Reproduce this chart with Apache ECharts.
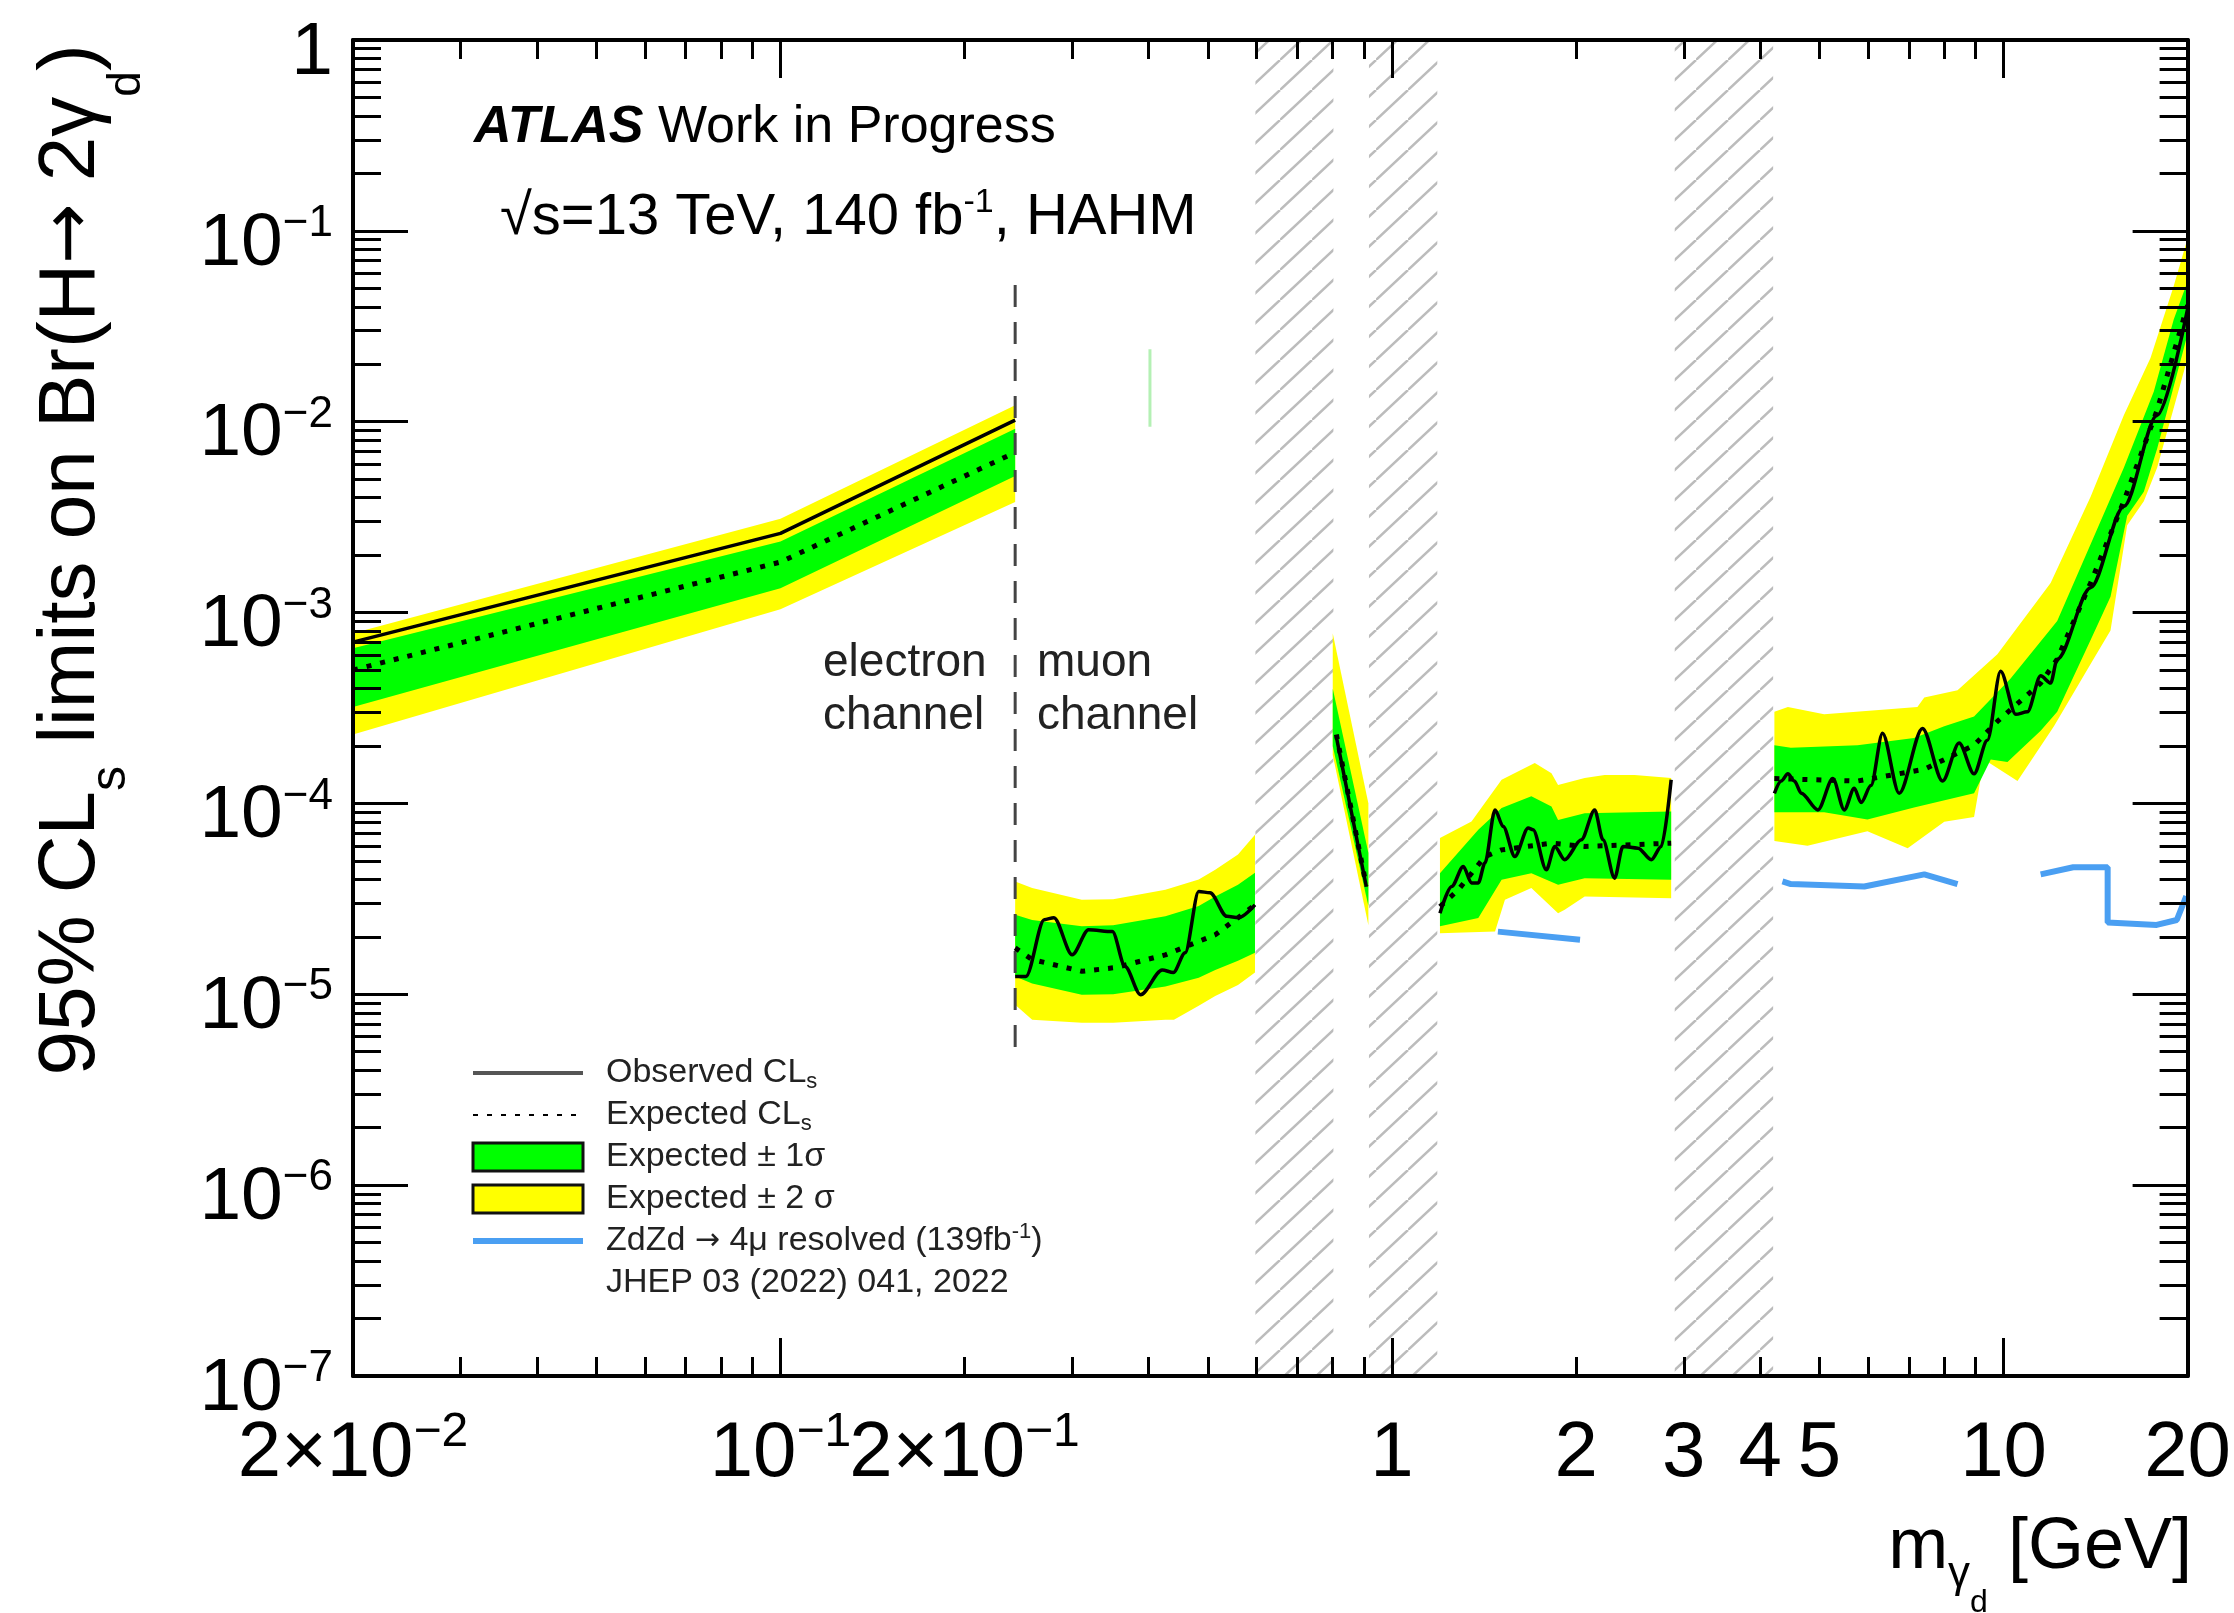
<!DOCTYPE html>
<html>
<head>
<meta charset="utf-8">
<title>Br(H→2γd) limits</title>
<script src="https://cdn.jsdelivr.net/npm/echarts@6/dist/echarts.min.js"></script>
<style>
  html, body { margin: 0; padding: 0; background: #fff; }
  #chart { width: 2234px; height: 1613px; }
</style>
</head>
<body>
<div id="chart"></div>
<script>
  // axis ticks and labels
  const xTickValues = [0.02, 0.1, 0.2, 1, 2, 3, 4, 5, 10, 20];
  const xTickLabels = ['{a|2×10}{b|−2}', '{a|10}{b|−1}', '{a|2×10}{b|−1}', '{a|1}', '{a|2}', '{a|3}', '{a|4}', '{a|5}', '{a|10}', '{a|20}'];
  const xMajorTicks = [0.1, 1, 10];
  const xMinorTicks = [0.03, 0.04, 0.05, 0.06, 0.07, 0.08, 0.09, 0.2, 0.3, 0.4, 0.5, 0.6, 0.7, 0.8, 0.9, 2, 3, 4, 5, 6, 7, 8, 9];
  const yTickValues = [1e-7, 1e-6, 1e-5, 1e-4, 1e-3, 1e-2, 1e-1, 1];
  const yTickLabels = ['{a|10}{b|−7}', '{a|10}{b|−6}', '{a|10}{b|−5}', '{a|10}{b|−4}', '{a|10}{b|−3}', '{a|10}{b|−2}', '{a|10}{b|−1}', '{a|1}'];

  // electron channel
  const obsE = [[0.02, 7.0e-4], [0.1, 2.6e-3], [0.242, 1.02e-2]];
  const expE = [[0.02, 5.0e-4], [0.1, 1.84e-3], [0.242, 6.9e-3]];
  const g1UpE = [[0.02, 6.5e-4], [0.1, 2.36e-3], [0.242, 9.2e-3]];
  const g1LoE = [[0.02, 3.2e-4], [0.1, 1.34e-3], [0.242, 5.2e-3]];
  const g2UpE = [[0.02, 7.8e-4], [0.1, 3.1e-3], [0.242, 1.22e-2]];
  const g2LoE = [[0.02, 2.3e-4], [0.1, 1.04e-3], [0.242, 3.8e-3]];

  // muon channel, low mass
  const obsM = [[0.242, 1.24e-5], [0.252, 1.24e-5], [0.270, 2.46e-5], [0.280, 2.52e-5], [0.300, 1.61e-5], [0.319, 2.18e-5],
    [0.349, 2.13e-5], [0.366, 1.40e-5], [0.388, 9.94e-6], [0.421, 1.34e-5], [0.439, 1.30e-5], [0.459, 1.65e-5],
    [0.483, 3.46e-5], [0.504, 3.40e-5], [0.537, 2.56e-5], [0.561, 2.52e-5], [0.597, 2.94e-5]];
  const expM = [[0.242, 1.75e-5], [0.258, 1.52e-5], [0.311, 1.32e-5], [0.353, 1.38e-5], [0.426, 1.61e-5], [0.514, 2.05e-5], [0.597, 2.94e-5]];
  const g2UpM = [[0.242, 3.9e-5], [0.258, 3.6e-5], [0.311, 3.13e-5], [0.35, 3.15e-5], [0.426, 3.53e-5], [0.483, 4.0e-5], [0.514, 4.49e-5], [0.56, 5.4e-5], [0.597, 6.85e-5]];
  const g1UpM = [[0.242, 2.61e-5], [0.258, 2.45e-5], [0.311, 2.27e-5], [0.35, 2.3e-5], [0.426, 2.56e-5], [0.483, 2.9e-5], [0.514, 3.25e-5], [0.56, 3.75e-5], [0.597, 4.33e-5]];
  const g1LoM = [[0.242, 1.24e-5], [0.258, 1.14e-5], [0.311, 9.94e-6], [0.35, 1.0e-5], [0.426, 1.10e-5], [0.483, 1.22e-5], [0.514, 1.34e-5], [0.56, 1.5e-5], [0.597, 1.65e-5]];
  const g2LoM = [[0.242, 8.81e-6], [0.258, 7.35e-6], [0.311, 7.09e-6], [0.35, 7.1e-6], [0.426, 7.35e-6], [0.44, 7.35e-6], [0.483, 8.7e-6], [0.514, 9.8e-6], [0.56, 1.12e-5], [0.597, 1.30e-5]];

  // narrow window around 0.85 GeV
  const obsN = [[0.811, 2.23e-4], [0.908, 3.66e-5]];
  const expN = [[0.811, 2.3e-4], [0.908, 3.7e-5]];
  const g2UpN = [[0.80, 7.8e-4], [0.915, 1.0e-4]];
  const g1UpN = [[0.80, 4.0e-4], [0.915, 5.5e-5]];
  const g1LoN = [[0.80, 2.0e-4], [0.915, 2.9e-5]];
  const g2LoN = [[0.80, 1.8e-4], [0.915, 2.3e-5]];

  // 1.2 - 2.9 GeV
  const obsL = [[1.198, 2.66e-5], [1.252, 3.67e-5], [1.308, 4.67e-5], [1.349, 3.83e-5], [1.384, 3.83e-5], [1.419, 4.87e-5],
    [1.474, 9.25e-5], [1.520, 7.57e-5], [1.588, 5.27e-5], [1.670, 7.43e-5], [1.701, 7.28e-5], [1.788, 4.49e-5],
    [1.846, 5.95e-5], [1.916, 5.07e-5], [2.040, 6.45e-5], [2.145, 9.25e-5], [2.213, 6.45e-5], [2.312, 4.06e-5],
    [2.386, 5.95e-5], [2.525, 5.83e-5], [2.655, 5.07e-5], [2.756, 5.95e-5], [2.861, 1.33e-4]];
  const expL = [[1.198, 2.88e-5], [1.284, 3.53e-5], [1.419, 5.27e-5], [1.511, 5.71e-5], [1.823, 6.19e-5], [2.066, 5.95e-5], [2.861, 6.19e-5]];
  const g2UpL = [[1.198, 6.58e-5], [1.349, 8.04e-5], [1.511, 1.33e-4], [1.712, 1.63e-4], [1.823, 1.44e-4], [1.869, 1.25e-4], [2.066, 1.36e-4], [2.227, 1.41e-4], [2.493, 1.41e-4], [2.861, 1.36e-4]];
  const g1UpL = [[1.198, 4.31e-5], [1.384, 7.28e-5], [1.511, 9.45e-5], [1.690, 1.09e-4], [1.823, 9.64e-5], [1.869, 8.2e-5], [2.066, 8.89e-5], [2.861, 9.07e-5]];
  const g1LoL = [[1.198, 2.27e-5], [1.384, 2.51e-5], [1.511, 3.98e-5], [1.690, 4.31e-5], [1.869, 3.75e-5], [2.066, 4.06e-5], [2.861, 3.98e-5]];
  const g2LoL = [[1.198, 2.09e-5], [1.474, 2.13e-5], [1.530, 3.13e-5], [1.690, 3.6e-5], [1.869, 2.66e-5], [1.916, 2.77e-5], [2.066, 3.25e-5], [2.861, 3.19e-5]];

  // 4.2 - 20 GeV
  const obsH = [[4.22, 1.13e-4], [4.33, 1.31e-4], [4.44, 1.43e-4], [4.55, 1.31e-4], [4.67, 1.13e-4], [4.97, 9.25e-5], [5.26, 1.35e-4],
    [5.49, 9.25e-5], [5.70, 1.20e-4], [5.85, 1.01e-4], [6.07, 1.24e-4], [6.34, 2.33e-4], [6.75, 1.13e-4], [7.37, 2.47e-4],
    [7.95, 1.31e-4], [8.46, 2.07e-4], [8.95, 1.43e-4], [9.41, 2.14e-4], [9.89, 4.93e-4], [10.47, 2.93e-4], [10.94, 3.02e-4],
    [11.50, 4.66e-4], [11.94, 4.27e-4], [12.24, 5.70e-4], [13.88, 1.35e-3], [15.73, 3.6e-3], [17.83, 1.08e-2], [20, 3.9e-2]];
  const expH = [[4.22, 1.35e-4], [5.77, 1.31e-4], [7.42, 1.51e-4], [8.95, 2.02e-4], [9.77, 2.69e-4], [11.50, 4.27e-4], [12.24, 5.70e-4],
    [13.88, 1.43e-3], [15.73, 3.83e-3], [17.83, 1.15e-2], [20, 4.08e-2]];
  const g1UpH = [[4.22, 2.02e-4], [4.49, 1.96e-4], [5.77, 2.02e-4], [7.14, 2.20e-4], [8.00, 2.54e-4], [8.95, 2.85e-4], [10.27, 4.52e-4],
    [12.24, 9.04e-4], [13.88, 2.28e-3], [15.73, 5.74e-3], [17.61, 1.44e-2], [18.98, 3.43e-2], [20, 5.44e-2]];
  const g2UpH = [[4.22, 3.02e-4], [4.44, 3.20e-4], [5.09, 2.93e-4], [7.23, 3.20e-4], [7.42, 3.59e-4], [8.41, 3.92e-4], [9.77, 6.04e-4],
    [11.94, 1.43e-3], [13.88, 4.05e-3], [15.73, 1.08e-2], [17.39, 2.16e-2], [18.98, 5.14e-2], [20, 9.14e-2]];
  const g1LoH = [[4.22, 8.99e-5], [5.09, 8.99e-5], [5.99, 8.24e-5], [7.14, 9.52e-5], [8.95, 1.13e-4], [9.53, 1.70e-4], [10.15, 1.65e-4],
    [11.50, 2.40e-4], [12.24, 3.02e-4], [13.88, 7.18e-4], [14.96, 1.21e-3], [15.93, 3.22e-3], [16.96, 4.29e-3], [17.83, 7.22e-3], [20, 2.88e-2]];
  const g2LoH = [[4.22, 6.36e-5], [4.78, 6.00e-5], [5.99, 7.14e-5], [6.97, 5.83e-5], [8.00, 8.01e-5], [8.95, 8.49e-5], [9.29, 1.70e-4],
    [10.54, 1.31e-4], [12.09, 2.54e-4], [13.88, 5.38e-4], [14.96, 8.06e-4], [15.93, 2.87e-3], [16.96, 3.83e-3], [17.83, 5.74e-3], [20, 2.16e-2]];

  // ZdZd -> 4mu resolved
  const zdA = [[1.49, 2.13e-5], [2.03, 1.93e-5]];
  const zdB = [[4.35, 3.9e-5], [4.49, 3.78e-5], [5.92, 3.67e-5], [7.42, 4.25e-5], [8.41, 3.78e-5]];
  const zdC = [[11.5, 4.25e-5], [13.0, 4.63e-5], [14.8, 4.63e-5], [14.8, 2.38e-5], [17.8, 2.31e-5], [19.2, 2.45e-5], [19.9, 3.27e-5]];

  // electron / muon separator, vetoed mass windows, stray mark
  const separator = [[0.242, 5.2e-2], [0.242, 5.3e-6]];
  const vetoWindows = [[0.598, 0.802], [0.917, 1.186], [2.90, 4.20]];
  const strayMark = [[0.402, 2.4e-2], [0.402, 9.4e-3]];

  const FONT = 'Liberation Sans, Arial, Helvetica, sans-serif';
  const ARROW_FONT = 'DejaVu Sans, sans-serif';

  const yellowBands = [[g2UpE, g2LoE], [g2UpM, g2LoM], [g2UpN, g2LoN], [g2UpL, g2LoL], [g2UpH, g2LoH]];
  const greenBands = [[g1UpE, g1LoE], [g1UpM, g1LoM], [g1UpN, g1LoN], [g1UpL, g1LoL], [g1UpH, g1LoH]];

  function joinSegments(segs) {
    const out = [];
    segs.forEach((s, i) => {
      if (i) out.push([s[0][0], '-']);
      s.forEach(p => out.push(p));
    });
    return out;
  }

  function nearestIdx(vals, v) {
    let best = 0, bd = Infinity;
    vals.forEach((t, i) => {
      const d = Math.abs(Math.log10(t) - Math.log10(v));
      if (d < bd) { bd = d; best = i; }
    });
    return best;
  }

  // keep the end values just inside the axis range
  function nudge(vals, lo, hi) {
    return vals.map(v => v <= lo ? lo * (1 + 1e-9) : (v >= hi ? hi * (1 - 1e-9) : v));
  }

  function hatchPattern() {
    const w = 32, h = 30;
    const c = document.createElement('canvas');
    c.width = w; c.height = h;
    const g = c.getContext('2d');
    g.strokeStyle = '#bcbcbc';
    g.lineWidth = 2.5;
    g.beginPath();
    g.moveTo(0, h); g.lineTo(w, 0);
    g.moveTo(-w, h); g.lineTo(0, 0);
    g.moveTo(w, 2 * h); g.lineTo(2 * w, h);
    g.stroke();
    return c;
  }

  function bandSeries(name, bands, color) {
    return {
      type: 'custom',
      name: name,
      coordinateSystem: 'cartesian2d',
      silent: true,
      z: 2,
      data: bands.map((b, i) => [b[0][0][0], b[0][0][1], i]),
      encode: { x: 0, y: 1 },
      renderItem: function (params, api) {
        const b = bands[api.value(2)];
        const pts = b[0].map(p => api.coord(p)).concat(b[1].slice().reverse().map(p => api.coord(p)));
        return { type: 'polygon', shape: { points: pts }, style: { fill: color } };
      }
    };
  }

  const tickStyle = { color: '#000', width: 3 };

  function xAxisDef(position, ticks, len, withLabels) {
    return {
      type: 'log', logBase: 10, min: 0.02, max: 20, position: position, z: 10,
      axisLine: { show: withLabels !== undefined, onZero: false, lineStyle: { color: '#000', width: 4 } },
      splitLine: { show: false },
      axisTick: { show: true, inside: true, length: len, customValues: nudge(ticks, 0.02, 20), lineStyle: tickStyle },
      axisLabel: withLabels ? {
        show: true,
        customValues: nudge(xTickValues, 0.02, 20),
        formatter: v => xTickLabels[nearestIdx(xTickValues, v)],
        margin: 33,
        hideOverlap: false,
        color: '#000',
        rich: {
          a: { fontFamily: FONT, fontSize: 78, lineHeight: 90, color: '#000' },
          b: { fontFamily: FONT, fontSize: 48, lineHeight: 36, verticalAlign: 'top', color: '#000' }
        }
      } : { show: false }
    };
  }

  function yAxisDef(position, ticks, len, withLabels) {
    return {
      type: 'log', logBase: 10, min: 1e-7, max: 1, position: position, z: 10,
      axisLine: { show: withLabels !== undefined, onZero: false, lineStyle: { color: '#000', width: 4 } },
      splitLine: { show: false },
      axisTick: { show: true, inside: true, length: len, customValues: nudge(ticks, 1e-7, 1), lineStyle: tickStyle },
      axisLabel: withLabels ? {
        show: true,
        customValues: nudge(yTickValues, 1e-7, 1),
        formatter: v => yTickLabels[nearestIdx(yTickValues, v)],
        margin: 20,
        padding: [26, 0, 0, 0],
        color: '#000',
        rich: {
          a: { fontFamily: FONT, fontSize: 75, lineHeight: 84, color: '#000' },
          b: { fontFamily: FONT, fontSize: 44, lineHeight: 34, verticalAlign: 'top', color: '#000' }
        }
      } : { show: false }
    };
  }

  const yMinorTicks = [];
  for (let e = -7; e < 0; e++) {
    for (let k = 2; k <= 9; k++) yMinorTicks.push(k * Math.pow(10, e));
  }

  const chart = echarts.init(document.getElementById('chart'));

  const legendRich = {
    t: { fontFamily: FONT, fontSize: 34, lineHeight: 40, color: '#222' },
    s: { fontFamily: FONT, fontSize: 22, lineHeight: 22, verticalAlign: 'bottom', color: '#222' },
    p: { fontFamily: FONT, fontSize: 22, lineHeight: 22, verticalAlign: 'top', color: '#222' },
    ar: { fontFamily: ARROW_FONT, fontSize: 30, lineHeight: 40, color: '#222' }
  };
  const legendText = {
    'Observed CLs': '{t|Observed CL}{s|s}',
    'Expected CLs': '{t|Expected CL}{s|s}',
    'Expected ± 1σ': '{t|Expected ± 1σ}',
    'Expected ± 2σ': '{t|Expected ± 2 σ}',
    'ZdZd → 4μ resolved (139fb-1)': '{t|ZdZd }{ar|→}{t| 4μ resolved (139fb}{p|-1}{t|)}',
    'JHEP 03 (2022) 041, 2022': '{t|JHEP 03 (2022) 041, 2022}'
  };

  const observedStyle = { color: '#000', width: 3.5 };

  const option = {
    animation: false,
    backgroundColor: '#fff',
    textStyle: { fontFamily: FONT },
    grid: { left: 353, right: 46, top: 40, bottom: 237, containLabel: false },
    xAxis: [
      xAxisDef('bottom', xMajorTicks, 38, true),
      xAxisDef('bottom', xMinorTicks, 19),
      xAxisDef('top', xMajorTicks, 38, false),
      xAxisDef('top', xMinorTicks, 19)
    ],
    yAxis: [
      yAxisDef('left', yTickValues, 55, true),
      yAxisDef('left', yMinorTicks, 28),
      yAxisDef('right', yTickValues, 55, false),
      yAxisDef('right', yMinorTicks, 28)
    ],
    legend: {
      orient: 'vertical',
      left: 470,
      top: 1053,
      padding: 0,
      itemWidth: 110,
      itemHeight: 28,
      itemGap: 2,
      selectedMode: false,
      formatter: name => legendText[name] || name,
      textStyle: { fontFamily: FONT, fontSize: 34, color: '#222', lineHeight: 40, padding: [0, 0, 0, 18], rich: legendRich },
      data: [
        { name: 'Observed CLs', itemStyle: { opacity: 0 }, lineStyle: { color: '#555', width: 4 } },
        { name: 'Expected CLs', itemStyle: { opacity: 0 } },
        { name: 'Expected ± 1σ', icon: 'rect', itemStyle: { color: '#00ff00', borderColor: '#111', borderWidth: 3 } },
        { name: 'Expected ± 2σ', icon: 'rect', itemStyle: { color: '#ffff00', borderColor: '#111', borderWidth: 3 } },
        { name: 'ZdZd → 4μ resolved (139fb-1)', itemStyle: { opacity: 0 }, lineStyle: { color: '#4a9ff2', width: 6 } },
        { name: 'JHEP 03 (2022) 041, 2022', icon: 'rect', itemStyle: { color: 'rgba(0,0,0,0)', borderWidth: 0 } }
      ]
    },
    graphic: [
      {
        type: 'text', x: 474, y: 128, silent: true,
        style: {
          text: '{b|ATLAS}{t| Work in Progress}',
          align: 'left', verticalAlign: 'middle', textAlign: 'left', textVerticalAlign: 'middle',
          rich: {
            b: { fontFamily: FONT, fontSize: 52, fontWeight: 'bold', fontStyle: 'italic', fill: '#000' },
            t: { fontFamily: FONT, fontSize: 52, fill: '#000' }
          }
        }
      },
      {
        type: 'text', x: 500, y: 218, silent: true,
        style: {
          text: '{t|√s=13 TeV, 140 fb}{p|-1}{t|, HAHM}',
          align: 'left', verticalAlign: 'middle', textAlign: 'left', textVerticalAlign: 'middle',
          rich: {
            t: { fontFamily: FONT, fontSize: 58, lineHeight: 64, fill: '#000' },
            p: { fontFamily: FONT, fontSize: 34, verticalAlign: 'top', fill: '#000' }
          }
        }
      },
      {
        type: 'text', x: 823, y: 637, silent: true,
        style: {
          text: 'electron\nchannel', fontFamily: FONT, fontSize: 46, lineHeight: 53, fill: '#222',
          align: 'left', verticalAlign: 'top', textAlign: 'left', textVerticalAlign: 'top'
        }
      },
      {
        type: 'text', x: 1037, y: 637, silent: true,
        style: {
          text: 'muon\nchannel', fontFamily: FONT, fontSize: 46, lineHeight: 53, fill: '#222',
          align: 'left', verticalAlign: 'top', textAlign: 'left', textVerticalAlign: 'top'
        }
      },
      {
        type: 'text', x: 32, y: 560, rotation: Math.PI / 2, silent: true,
        style: {
          text: '{t|95% CL}{s|s}{t| limits on Br(H}{ar|→}{t| 2γ}{d|d}{t|)}',
          align: 'center', verticalAlign: 'top', textAlign: 'center', textVerticalAlign: 'top',
          rich: {
            t: { fontFamily: FONT, fontSize: 80, height: 80, verticalAlign: 'top', fill: '#000' },
            ar: { fontFamily: ARROW_FONT, fontSize: 72, height: 80, verticalAlign: 'top', fill: '#000' },
            s: { fontFamily: FONT, fontSize: 50, height: 158, verticalAlign: 'top', fill: '#000' },
            d: { fontFamily: FONT, fontSize: 46, height: 190, verticalAlign: 'top', fill: '#000' }
          }
        }
      },
      {
        type: 'text', x: 2192, y: 1508, silent: true,
        style: {
          text: '{t|m}{g|γ}{d|d}{t| [GeV]}',
          align: 'right', verticalAlign: 'top', textAlign: 'right', textVerticalAlign: 'top',
          rich: {
            t: { fontFamily: FONT, fontSize: 72, height: 80, verticalAlign: 'top', fill: '#000' },
            g: { fontFamily: FONT, fontSize: 44, height: 134, verticalAlign: 'top', fill: '#000' },
            d: { fontFamily: FONT, fontSize: 32, height: 190, verticalAlign: 'top', fill: '#000' }
          }
        }
      }
    ],
    series: [
      Object.assign(bandSeries('Expected ± 2σ', yellowBands, '#ffff00'), {
        markArea: {
          silent: true,
          itemStyle: { color: { image: hatchPattern(), repeat: 'repeat' } },
          data: vetoWindows.map(r => [{ xAxis: r[0] }, { xAxis: r[1] }])
        }
      }),
      bandSeries('Expected ± 1σ', greenBands, '#00ff00'),
      {
        type: 'line', name: 'separator', data: separator, z: 4, silent: true,
        symbol: 'none', showSymbol: false,
        lineStyle: { color: '#444', width: 3, type: [22, 15] }
      },
      {
        type: 'line', name: 'Expected CLs', data: joinSegments([expE, expM, expN, expL, expH]), z: 4, silent: true,
        symbol: 'none', showSymbol: false, connectNulls: false,
        lineStyle: { color: '#000', width: 5, type: [5, 9], cap: 'butt' }
      },
      // straight pieces (electron channel and the narrow window)
      {
        type: 'line', name: 'Observed CLs', data: joinSegments([obsE, obsN]), z: 5, silent: true,
        symbol: 'none', showSymbol: false, connectNulls: false,
        lineStyle: observedStyle
      },
      // fluctuating muon-channel pieces
      {
        type: 'line', name: 'Observed CLs', data: joinSegments([obsM, obsL, obsH]), z: 5, silent: true,
        symbol: 'none', showSymbol: false, connectNulls: false,
        smooth: 0.3, smoothMonotone: 'x',
        lineStyle: observedStyle
      },
      {
        type: 'line', name: 'ZdZd → 4μ resolved (139fb-1)', data: joinSegments([zdA, zdB, zdC]), z: 5, silent: true,
        symbol: 'none', showSymbol: false, connectNulls: false,
        lineStyle: { color: '#4a9ff2', width: 6 }
      },
      {
        type: 'line', name: 'stray', data: strayMark, z: 3, silent: true,
        symbol: 'none', showSymbol: false,
        lineStyle: { color: '#b4f0b4', width: 3 }
      },
      {
        type: 'line', name: 'JHEP 03 (2022) 041, 2022', data: [], silent: true,
        symbol: 'none', showSymbol: false
      }
    ]
  };

  chart.setOption(option);
  window.addEventListener('resize', function () {
    chart.resize();
  });
</script>
</body>
</html>
